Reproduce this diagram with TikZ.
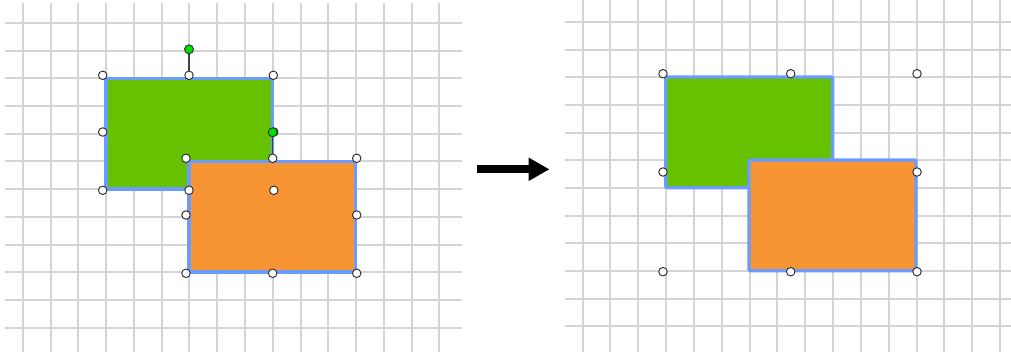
\documentclass[tikz,border=0pt]{standalone}
\usetikzlibrary{arrows.meta}
\definecolor{gridc}{HTML}{D4D4D4}
\definecolor{greenf}{HTML}{66C200}
\definecolor{orangef}{HTML}{F79433}
\definecolor{selblue}{HTML}{6A9BFF}
\definecolor{rotg}{HTML}{00E000}
\begin{document}
\begin{tikzpicture}[x=1pt,y=-1pt,
  handle/.style={circle,draw=black!85,fill=white,line width=0.9pt,minimum size=8.5pt,inner sep=0pt},
  rothandle/.style={circle,draw=black!80,fill=rotg,line width=0.9pt,minimum size=9pt,inner sep=0pt},
  gridline/.style={draw=gridc,line width=2pt},
  shapebox/.style={draw=selblue,line width=3.2pt,line join=round},
  rotline/.style={draw=black!75,line width=1.4pt}]
\useasboundingbox (0,0) rectangle (1011,356);
% left grid
\foreach \k in {0,...,15} \draw[gridline] ({round(22.8+27.78*\k)},3) -- ++(0,349);
\foreach \k in {0,...,11} \draw[gridline] (5,{round(23+27.7*\k)}) -- (462,{round(23+27.7*\k)});
% right grid
\foreach \k in {0,...,15} \draw[gridline] ({round(582.6+27.83*\k)},0) -- ++(0,352);
\foreach \k in {0,...,11} \draw[gridline] (565,{round(22+27.66*\k)}) -- (1011,{round(22+27.66*\k)});
% left shapes
\draw[shapebox,fill=greenf] (106,78.3) rectangle (272.5,189);
\draw[shapebox,fill=orangef] (189,161.3) rectangle (355.7,272);
% right shapes
\draw[shapebox,fill=greenf,rounded corners=1pt] (665.7,77) rectangle (832.7,187.7);
\draw[shapebox,fill=orangef,rounded corners=1pt] (749,160) rectangle (916,270.7);
% left handles: green shape
\node[handle] (g1) at (102.7,75.3) {};
\node[handle] (g2) at (189,75.3) {};
\node[handle] (g3) at (273.3,75.3) {};
\node[handle] (g4) at (102.7,132) {};
\node[handle] (g5) at (273.8,132) {};
\node[handle] (g6) at (102.7,190.3) {};
\node[handle] (g7) at (189,190.3) {};
\node[handle] (g8) at (273.8,190.3) {};
% left handles: orange shape
\node[handle] (o1) at (186,158.3) {};
\node[handle] (o2) at (272.7,158.3) {};
\node[handle] (o3) at (356.7,158.3) {};
\node[handle] (o4) at (186,215) {};
\node[handle] (o5) at (356.7,215) {};
\node[handle] (o6) at (186,273.3) {};
\node[handle] (o7) at (272.7,273.3) {};
\node[handle] (o8) at (356.7,273.3) {};
% rotation handles
\node[rothandle] (gr) at (189,49.3) {};
\node[rothandle] (orr) at (272.7,132.3) {};
\draw[rotline] (gr) -- (g2);
\draw[rotline] (orr) -- (o2);
% arrow
\coordinate (as) at (477.3,169.3);
\coordinate (ae) at (549.5,169.3);
\draw[line width=8pt,-{Triangle[length=21pt,width=22pt]}] (as) -- (ae);
% right handles
\node[handle] (r1) at (663,73.7) {};
\node[handle] (r2) at (790.7,73.7) {};
\node[handle] (r3) at (917,73.7) {};
\node[handle] (r4) at (663,172) {};
\node[handle] (r5) at (917,172) {};
\node[handle] (r6) at (663,271.7) {};
\node[handle] (r7) at (790.7,271.7) {};
\node[handle] (r8) at (917,271.7) {};
\end{tikzpicture}
\end{document}
